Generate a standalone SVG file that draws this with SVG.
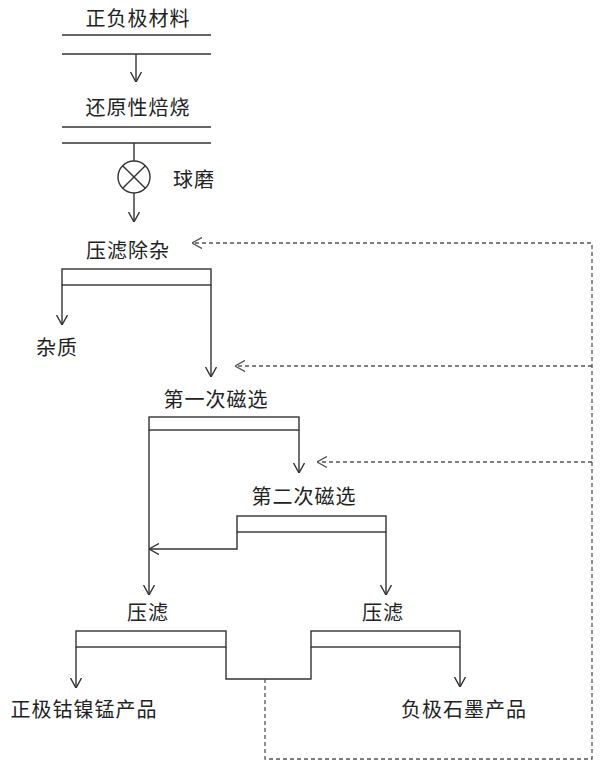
<svg xmlns="http://www.w3.org/2000/svg" width="600" height="769" viewBox="0 0 600 769">
<style>
text{font-family:"Noto Sans CJK SC","Noto Sans",sans-serif;font-size:20px;fill:#222;text-anchor:middle;letter-spacing:1px}
.ln{stroke:#333;stroke-width:1.4;fill:none}
.ds{stroke:#555;stroke-width:1.3;fill:none;stroke-dasharray:4 3}
</style>
<defs>
<marker id="ah" viewBox="0 0 10 12" refX="10" refY="6" markerWidth="10" markerHeight="12" markerUnits="userSpaceOnUse" orient="auto">
<path d="M0,0.5 L10,6 L0,11.5" fill="none" stroke="#333" stroke-width="1.4"/>
</marker>
<marker id="ahd" viewBox="0 0 10 12" refX="10" refY="6" markerWidth="10" markerHeight="12" markerUnits="userSpaceOnUse" orient="auto">
<path d="M0,0.5 L10,6 L0,11.5" fill="none" stroke="#555" stroke-width="1.4"/>
</marker>
</defs>
<g id="n1"><text x="138" y="25.5">正负极材料</text><line class="ln" x1="62" y1="35" x2="211" y2="35"/><line class="ln" x1="62" y1="54" x2="211" y2="54"/></g>
<g id="n2"><text x="138" y="115">还原性焙烧</text><line class="ln" x1="62" y1="127" x2="211" y2="127"/><line class="ln" x1="62" y1="143" x2="211" y2="143"/></g>
<g id="n3"><circle class="ln" cx="134" cy="177" r="16"/><line class="ln" x1="122.7" y1="165.7" x2="145.3" y2="188.3"/><line class="ln" x1="145.3" y1="165.7" x2="122.7" y2="188.3"/><text x="194" y="187">球磨</text></g>
<g id="n4"><text x="128" y="258">压滤除杂</text><rect class="ln" x="62" y="269" width="149" height="16"/></g>
<g id="n5"><text x="57" y="355">杂质</text></g>
<g id="n6"><text x="216" y="407">第一次磁选</text><rect class="ln" x="149" y="417" width="150" height="13"/></g>
<g id="n7"><text x="304" y="504">第二次磁选</text><rect class="ln" x="237" y="516" width="149" height="16"/></g>
<g id="n8"><text x="148" y="620">压滤</text><rect class="ln" x="76" y="631" width="150" height="16"/></g>
<g id="n9"><text x="383" y="620">压滤</text><rect class="ln" x="311" y="631" width="149" height="16"/></g>
<g id="n10"><text x="84" y="717">正极钴镍锰产品</text></g>
<g id="n11"><text x="464" y="717">负极石墨产品</text></g>
<g id="connectors">
<line class="ln" x1="136" y1="54" x2="136" y2="82" marker-end="url(#ah)"/>
<line class="ln" x1="134" y1="143" x2="134" y2="161"/>
<line class="ln" x1="134" y1="193" x2="134" y2="222" marker-end="url(#ah)"/>
<line class="ln" x1="62" y1="285" x2="62" y2="325" marker-end="url(#ah)"/>
<line class="ln" x1="211" y1="285" x2="211" y2="377" marker-end="url(#ah)"/>
<line class="ln" x1="299" y1="430" x2="299" y2="473" marker-end="url(#ah)"/>
<line class="ln" x1="149" y1="430" x2="149" y2="595" marker-end="url(#ah)"/>
<polyline class="ln" points="237,532 237,549 149,549" marker-end="url(#ah)"/>
<line class="ln" x1="386" y1="532" x2="386" y2="595" marker-end="url(#ah)"/>
<line class="ln" x1="76" y1="647" x2="76" y2="688" marker-end="url(#ah)"/>
<line class="ln" x1="460" y1="647" x2="460" y2="687" marker-end="url(#ah)"/>
<polyline class="ln" points="226,647 226,679 311,679 311,647"/>
<polyline class="ds" points="265,679 265,759 592,759 592,243 192,243" marker-end="url(#ahd)"/>
<line class="ds" x1="592" y1="366" x2="235" y2="366" marker-end="url(#ahd)"/>
<line class="ds" x1="592" y1="462" x2="317" y2="462" marker-end="url(#ahd)"/>
</g>
</svg>
